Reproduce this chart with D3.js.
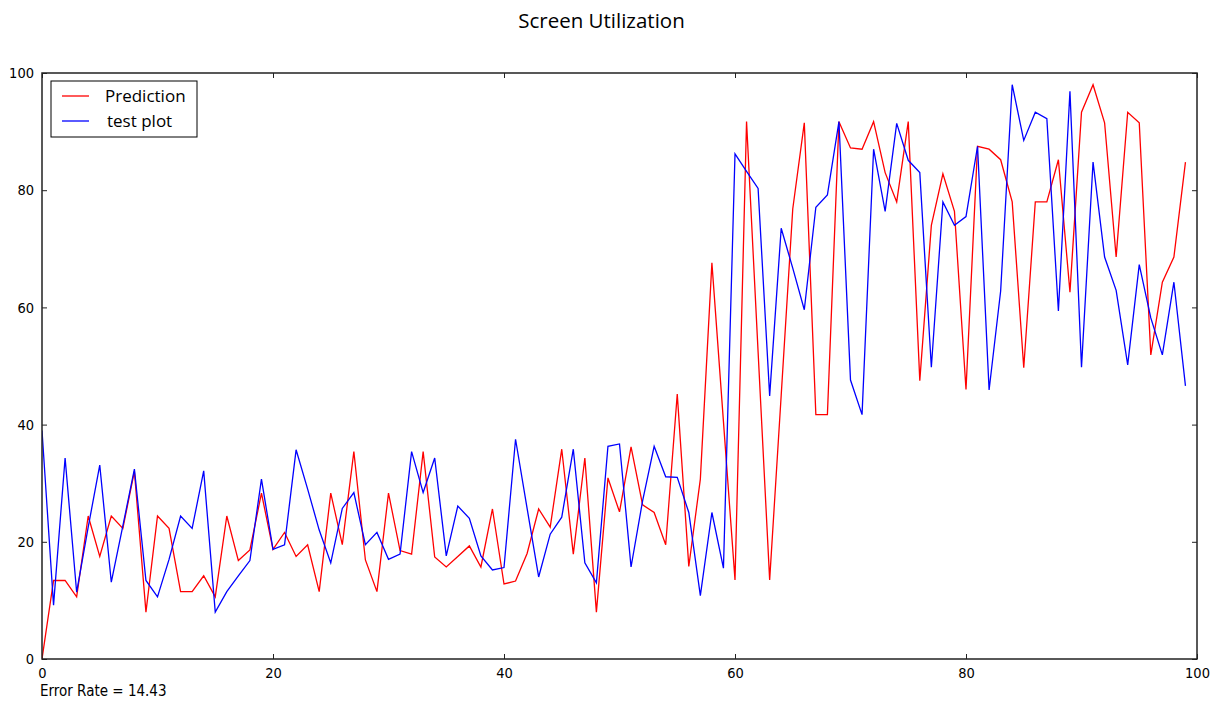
<!DOCTYPE html>
<html>
<head>
<meta charset="utf-8">
<script src="https://cdn.jsdelivr.net/npm/d3@7"></script>
<style>
  body { margin: 0; background: #fff; }
  svg { display: block; }
  .tick text { font-family: "DejaVu Sans Condensed", "DejaVu Sans", sans-serif; }
</style>
</head>
<body>
<div id="chart"></div>
<script>
const width = 1221;
const height = 704;
const margin = {left: 42, right: 24, top: 73, bottom: 45};

// values, x = 0..99
const prediction = [
  0, 13.4, 13.4, 10.6, 24.4, 17.5, 24.4, 22.3, 32, 8.0,
  24.4, 22.3, 11.5, 11.5, 14.2, 10.6, 24.4, 16.8, 18.6, 28.3,
  18.7, 21.6, 17.5, 19.5, 11.5, 28.3, 19.5, 35.4, 16.9, 11.5,
  28.3, 18.5, 17.9, 35.4, 17.4, 15.7, 17.5, 19.3, 15.7, 25.6,
  12.8, 13.3, 18, 25.6, 22.5, 35.8, 17.9, 34.3, 8.0, 30.9,
  25.1, 36.2, 26.3, 25, 19.5, 45.2, 15.8, 30.7, 67.6, 40.5,
  13.5, 91.7, 52.4, 13.5, 45, 76.8, 91.5, 41.7, 41.7, 91.7,
  87.2, 87, 91.7, 83, 78, 91.7, 47.5, 74, 82.8, 76.4,
  46, 87.5, 87, 85.2, 78, 49.7, 78, 78, 85.2, 62.6,
  93.3, 98, 91.5, 68.6, 93.3, 91.5, 51.9, 64.3, 68.6, 84.8
];
const testPlot = [
  39, 9.2, 34.3, 11.4, 22.5, 33.1, 13.1, 22.7, 32.4, 13.4,
  10.6, 17, 24.4, 22.3, 32.1, 8.0, 11.5, 14.2, 16.8, 30.7,
  18.7, 19.5, 35.7, 29, 22, 16.4, 25.7, 28.4, 19.5, 21.6,
  17, 17.9, 35.4, 28.4, 34.3, 17.6, 26.1, 24, 17.6, 15.2,
  15.6, 37.5, 25.7, 14, 21.3, 24.2, 35.8, 16.4, 13, 36.3,
  36.7, 15.7, 27, 36.3, 31.1, 31, 25, 10.8, 25, 15.5,
  86.2, 83.2, 80.3, 44.9, 73.5, 66.7, 59.6, 77.1, 79.2, 91.7,
  47.6, 41.7, 87, 76.4, 91.4, 85.1, 83, 49.8, 78, 74,
  75.5, 87.5, 45.9, 62.8, 98, 88.5, 93.3, 92.2, 59.4, 96.9,
  49.8, 84.8, 68.6, 62.9, 50.2, 67.3, 58.2, 51.9, 64.3, 46.6
];
const xTicks = [0, 20, 40, 60, 80, 100];
const yTicks = [0, 20, 40, 60, 80, 100];
const seriesNames = ["Prediction", "test plot"];
const seriesColors = ["#ff0000", "#0000ff"];
const titleText = "Screen Utilization";
const errorText = "Error Rate = 14.43";

const svg = d3.select("#chart")
  .append("svg")
  .attr("width", width)
  .attr("height", height);

const x = d3.scaleLinear()
  .domain([0, 100])
  .range([margin.left, width - margin.right]);

const y = d3.scaleLinear()
  .domain([0, 100])
  .range([height - margin.bottom, margin.top]);

// title
svg.append("text")
  .attr("x", width / 2 - 9)
  .attr("y", 28)
  .attr("text-anchor", "middle")
  .attr("font-family", "'Open Sans', 'Noto Sans', sans-serif")
  .attr("font-size", 20.5)
  .text(titleText);

// axes, ticks point inward like matplotlib classic
const fontSize = 14.5;
svg.append("g")
  .attr("transform", `translate(0,${height - margin.bottom})`)
  .call(d3.axisBottom(x).tickValues(xTicks).tickFormat(d3.format("d")).tickSizeInner(-5).tickSizeOuter(0).tickPadding(9))
  .call(g => g.select(".domain").remove())
  .attr("font-size", fontSize);

svg.append("g")
  .attr("transform", `translate(0,${margin.top})`)
  .call(d3.axisTop(x).tickValues(xTicks).tickFormat("").tickSizeInner(-5).tickSizeOuter(0))
  .call(g => g.select(".domain").remove());

svg.append("g")
  .attr("transform", `translate(${margin.left},0)`)
  .call(d3.axisLeft(y).tickValues(yTicks).tickFormat(d3.format("d")).tickSizeInner(-5).tickSizeOuter(0).tickPadding(8))
  .call(g => g.select(".domain").remove())
  .attr("font-size", fontSize);

svg.append("g")
  .attr("transform", `translate(${width - margin.right},0)`)
  .call(d3.axisRight(y).tickValues(yTicks).tickFormat("").tickSizeInner(-5).tickSizeOuter(0))
  .call(g => g.select(".domain").remove());

svg.selectAll(".tick line").attr("stroke", "#222");
svg.selectAll(".tick text").attr("fill", "#000");

// clip so lines stay in the frame
svg.append("clipPath").attr("id", "plotclip")
  .append("rect")
  .attr("x", margin.left)
  .attr("y", margin.top)
  .attr("width", width - margin.left - margin.right)
  .attr("height", height - margin.top - margin.bottom);

const line = d3.line()
  .x((d, i) => x(i))
  .y(d => y(d));

[prediction, testPlot].forEach((vals, k) => {
  svg.append("path")
    .datum(vals)
    .attr("clip-path", "url(#plotclip)")
    .attr("fill", "none")
    .attr("stroke", seriesColors[k])
    .attr("stroke-width", 1.3)
    .attr("stroke-linejoin", "miter")
    .attr("d", line);
});

// frame
svg.append("rect")
  .attr("x", margin.left)
  .attr("y", margin.top)
  .attr("width", width - margin.left - margin.right)
  .attr("height", height - margin.top - margin.bottom)
  .attr("fill", "none")
  .attr("stroke", "#222")
  .attr("stroke-width", 1.5);

// legend
const legend = svg.append("g").attr("transform", "translate(51,81)");
legend.append("rect")
  .attr("width", 146)
  .attr("height", 56)
  .attr("fill", "#fff")
  .attr("stroke", "#000")
  .attr("stroke-width", 1);

seriesNames.forEach((name, k) => {
  const ly = 15 + k * 25;
  legend.append("line")
    .attr("x1", 11).attr("x2", 38)
    .attr("y1", ly).attr("y2", ly)
    .attr("stroke", seriesColors[k])
    .attr("stroke-width", 1.3);
  legend.append("text")
    .attr("x", k === 0 ? 54 : 56)
    .attr("y", ly + 6)
    .attr("font-family", "'Open Sans', 'Noto Sans', sans-serif")
    .attr("font-size", 17)
    .text(name);
});

// error note under the x axis
svg.append("text")
  .attr("x", 40)
  .attr("y", 696)
  .attr("font-family", "'DejaVu Sans Condensed', 'DejaVu Sans', sans-serif")
  .attr("font-size", 15)
  .text(errorText);
</script>
</body>
</html>
